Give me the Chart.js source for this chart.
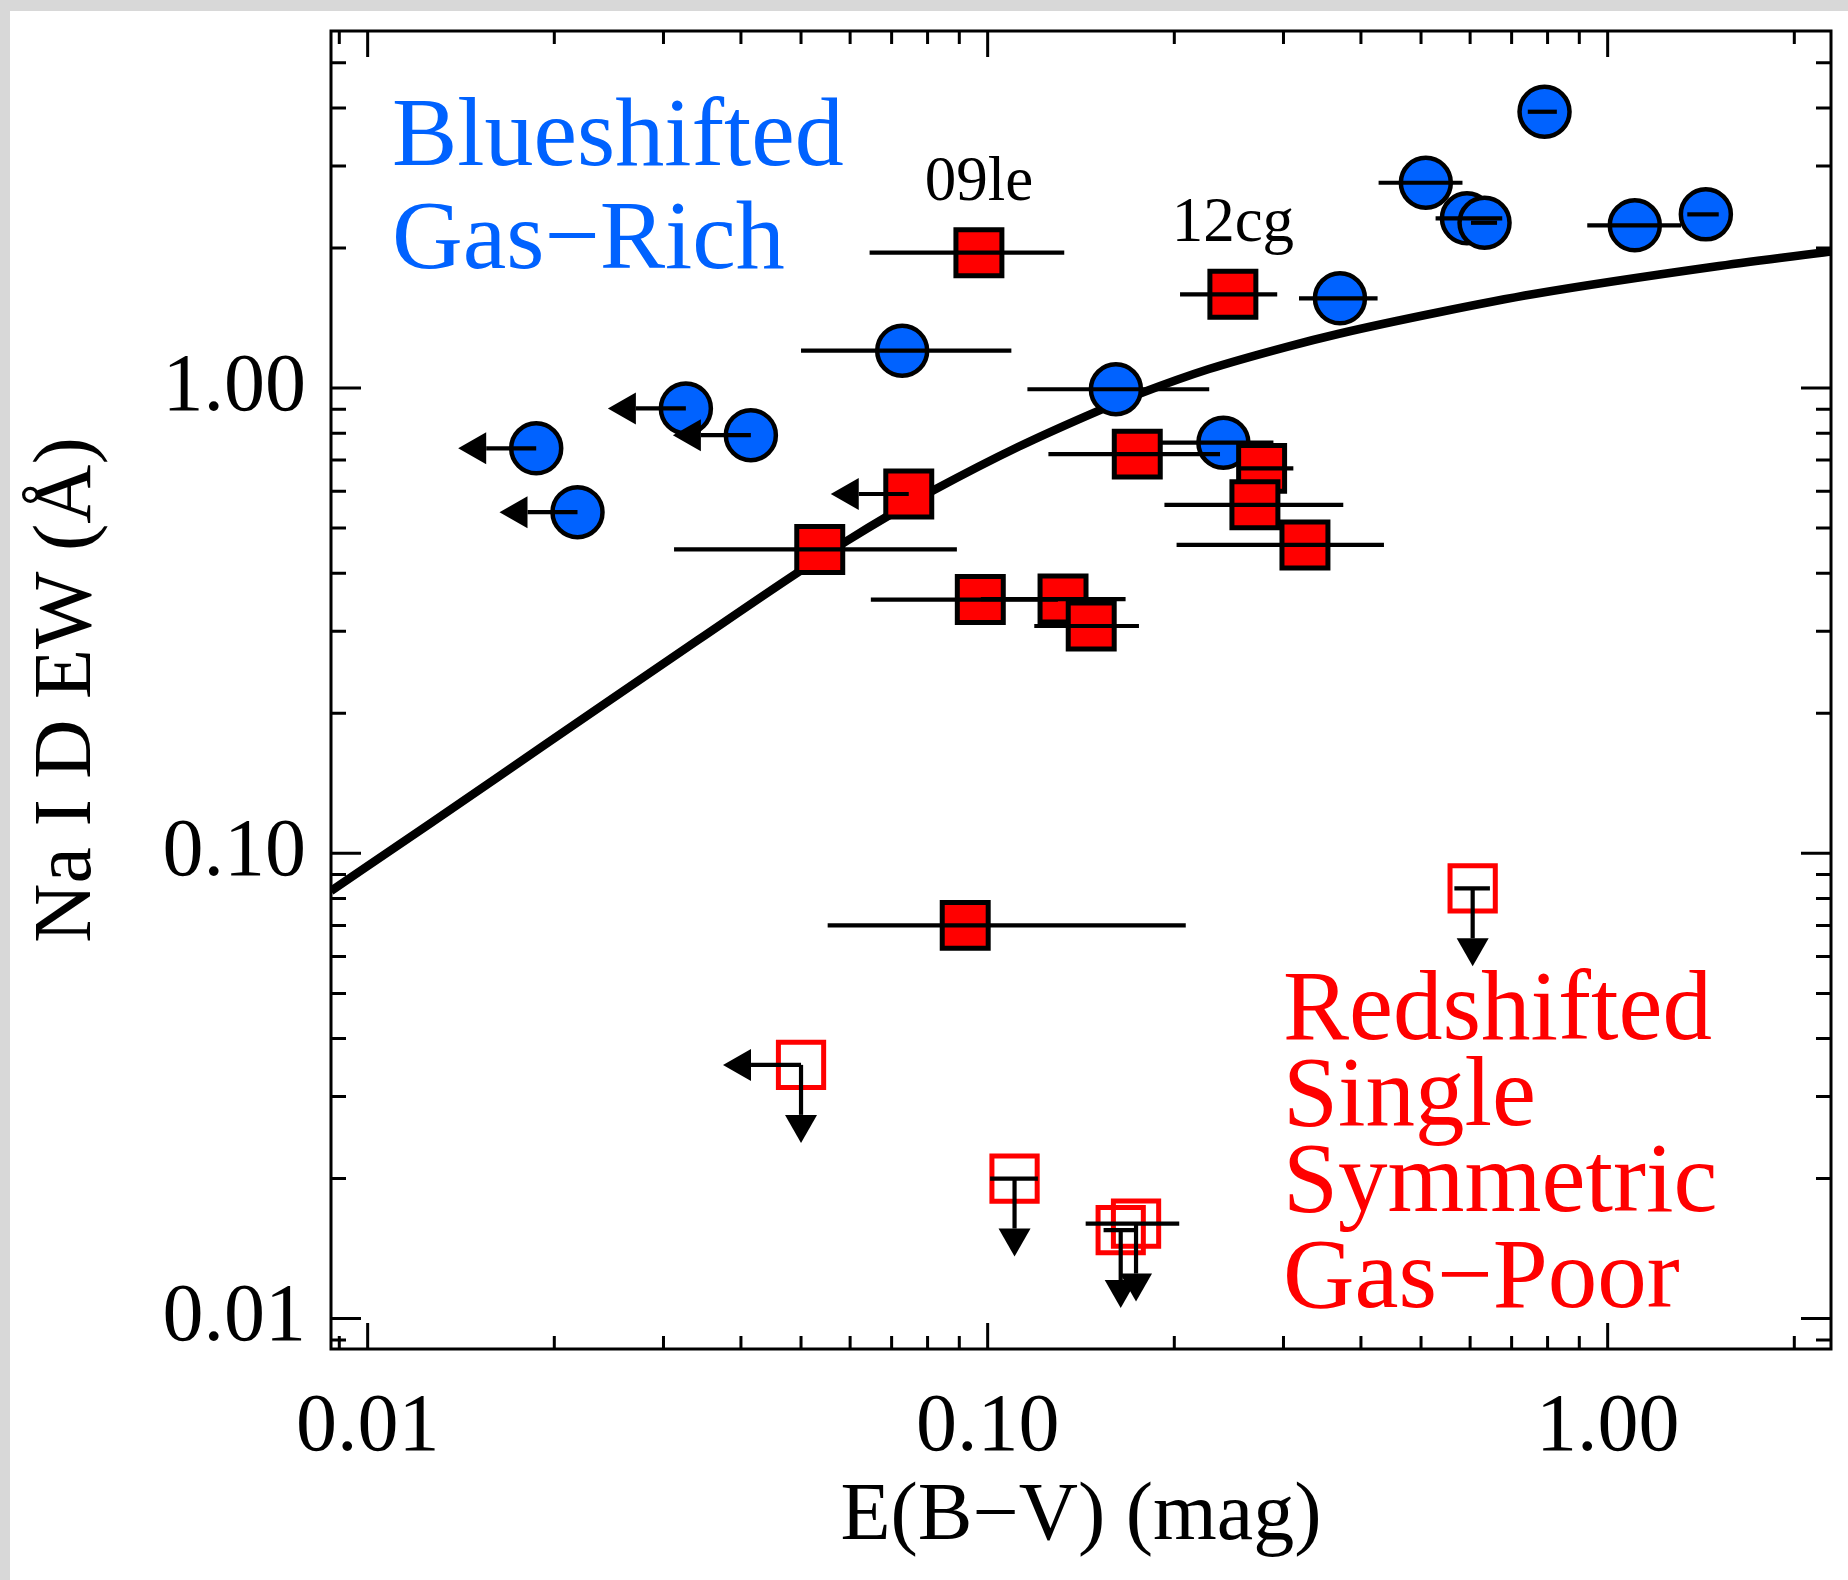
<!DOCTYPE html>
<html>
<head>
<meta charset="utf-8">
<title>Na I D EW vs E(B-V)</title>
<script src="https://cdn.jsdelivr.net/npm/chart.js@4.4.1/dist/chart.umd.min.js"></script>
<style>
  html, body { margin: 0; padding: 0; background: #fff; overflow: hidden; }
  canvas { display: block; }
</style>
</head>
<body>
<canvas id="c" width="1848" height="1580"></canvas>
<script>
// ---- axis ranges and tick labels ----
const eRange = [0.008727, 2.292];     // E(B-V) axis, mag
const ewRange = [0.008603, 5.853];    // Na I D EW axis, Angstrom
const xTickValues = [0.01, 0.1, 1];
const yTickValues = [0.01, 0.1, 1];

// ---- blueshifted, gas-rich ----
const blueE   = [0.0187, 0.0218, 0.0326, 0.0415, 0.0728, 0.161, 0.240, 0.370, 0.509, 0.593, 0.633, 0.791, 1.106, 1.440];
const blueEW  = [0.742, 0.541, 0.904, 0.792, 1.203, 0.994, 0.763, 1.559, 2.762, 2.316, 2.266, 3.925, 2.237, 2.362];
const blueELo = [null, null, null, null, 0.0500, 0.1159, 0.1909, 0.3178, 0.4271, 0.5278, 0.6019, 0.7433, 0.9270, 1.3441];
const blueEHi = [null, null, null, null, 0.1092, 0.2277, 0.2890, 0.4255, 0.5832, 0.6760, 0.6631, 0.8280, 1.3130, 1.5106];
const blueELimit = [1, 1, 1, 1, 0, 0, 0, 0, 0, 0, 0, 0, 0, 0];

// ---- redshifted / single / symmetric (detections) ----
const redE   = [0.0968, 0.2486, 0.0746, 0.0536, 0.1743, 0.2766, 0.2698, 0.3249, 0.0973, 0.1323, 0.1469, 0.0920];
const redEW  = [1.954, 1.590, 0.592, 0.450, 0.721, 0.672, 0.561, 0.460, 0.351, 0.352, 0.308, 0.0700];
const redELo = [0.0645, 0.2043, null, 0.0312, 0.1253, 0.2552, 0.1928, 0.2017, 0.0648, 0.0975, 0.1189, 0.0552];
const redEHi = [0.1329, 0.2931, null, 0.0892, 0.2370, 0.3112, 0.3746, 0.4357, 0.1298, 0.1669, 0.1754, 0.2087];
const redELimit = [0, 0, 1, 0, 0, 0, 0, 0, 0, 0, 0, 0];
const redNames  = ['09le', '12cg', '', '', '', '', '', '', '', '', '', ''];

// ---- gas-poor: EW upper limits ----
const limE   = [0.0500, 0.1105, 0.1639, 0.1735, 0.6057];
const limEW  = [0.0351, 0.0200, 0.0155, 0.0160, 0.0841];
const limELo = [null, 0.1009, 0.1538, 0.1439, 0.5659];
const limEHi = [null, 0.1205, 0.1747, 0.2037, 0.6458];
const limELimit = [1, 0, 0, 0, 0];

// ---- Na I D EW - E(B-V) relation ----
const curveE  = [0.008727, 0.01265, 0.01623, 0.02441, 0.03410, 0.04927, 0.05908, 0.06906, 0.08192, 0.1119, 0.1518, 0.1787, 0.2275, 0.3028, 0.3701, 0.5365, 0.7605, 1.512, 2.292];
const curveEW = [0.0830, 0.1162, 0.1459, 0.2120, 0.2873, 0.4004, 0.4679, 0.5308, 0.6036, 0.7469, 0.8968, 0.9804, 1.0985, 1.2248, 1.3099, 1.4568, 1.5922, 1.8289, 1.9655];

const BLUE = '#0062ff';
const RED = '#ff0000';
const FONT = '"Liberation Serif", "Times New Roman", Times, serif';

const toXY = (xs, ys) => xs.map((v, i) => ({ x: v, y: ys[i] }));

const errGroups = [
  { e: blueE, ew: blueEW, lo: blueELo, hi: blueEHi, limE: blueELimit, limEW: false },
  { e: redE,  ew: redEW,  lo: redELo,  hi: redEHi,  limE: redELimit,  limEW: false },
  { e: limE,  ew: limEW,  lo: limELo,  hi: limEHi,  limE: limELimit,  limEW: true }
];

function drawArrow(ctx, x0, y0, dx, dy) {
  const len = 78, head = 28, half = 16;
  const x1 = x0 + dx * len, y1 = y0 + dy * len;
  const bx = x1 - dx * head, by = y1 - dy * head;
  ctx.beginPath();
  ctx.moveTo(x0, y0);
  ctx.lineTo(bx, by);
  ctx.stroke();
  ctx.beginPath();
  ctx.moveTo(x1, y1);
  ctx.lineTo(bx - dy * half, by + dx * half);
  ctx.lineTo(bx + dy * half, by - dx * half);
  ctx.closePath();
  ctx.fill();
}

function minorValues(min, max) {
  const out = [];
  for (let p = -4; p <= 2; p++) {
    for (let m = 2; m <= 9; m++) {
      const v = m * Math.pow(10, p);
      if (v > min && v < max) out.push(v);
    }
  }
  return out;
}

const overlay = {
  id: 'overlay',
  beforeDraw(chart) {
    const ctx = chart.ctx;
    ctx.save();
    ctx.fillStyle = '#d8d8d8';
    ctx.fillRect(0, 0, chart.width, chart.height);
    ctx.fillStyle = '#ffffff';
    ctx.fillRect(10, 11, chart.width - 10, chart.height - 11);
    ctx.restore();
  },
  afterDatasetsDraw(chart) {
    const { ctx, chartArea: a, scales: { x, y } } = chart;

    // error bars and limit arrows
    ctx.save();
    ctx.beginPath();
    ctx.rect(a.left, a.top, a.right - a.left, a.bottom - a.top);
    ctx.clip();
    ctx.strokeStyle = '#000';
    ctx.fillStyle = '#000';
    ctx.lineWidth = 4.2;
    ctx.lineCap = 'butt';
    errGroups.forEach(g => {
      g.e.forEach((e, i) => {
        const px = x.getPixelForValue(e);
        const py = y.getPixelForValue(g.ew[i]);
        if (g.lo[i] != null) {
          ctx.beginPath();
          ctx.moveTo(x.getPixelForValue(g.lo[i]), py);
          ctx.lineTo(x.getPixelForValue(g.hi[i]), py);
          ctx.stroke();
        }
        if (g.limE[i]) drawArrow(ctx, px, py, -1, 0);
        if (g.limEW) drawArrow(ctx, px, py, 0, 1);
      });
    });
    ctx.restore();

    // object names above their points
    ctx.save();
    ctx.fillStyle = '#000';
    ctx.font = '63px ' + FONT;
    ctx.textAlign = 'center';
    ctx.textBaseline = 'alphabetic';
    redNames.forEach((n, i) => {
      if (!n) return;
      ctx.fillText(n, x.getPixelForValue(redE[i]), y.getPixelForValue(redEW[i]) - 53);
    });

    // group captions
    ctx.textAlign = 'left';
    ctx.fillStyle = BLUE;
    ctx.font = '98px ' + FONT;
    ctx.fillText('Blueshifted', a.left + 61, 165);
    ctx.fillText('Gas\u2212Rich', a.left + 61, 268);
    ctx.fillStyle = RED;
    ctx.font = '99px ' + FONT;
    ctx.fillText('Redshifted', a.left + 952, 1039);
    ctx.fillText('Single', a.left + 952, 1125);
    ctx.fillText('Symmetric', a.left + 952, 1211);
    ctx.fillText('Gas\u2212Poor', a.left + 952, 1307);
    ctx.restore();

    // frame with inward ticks on all four sides
    ctx.save();
    ctx.strokeStyle = '#000';
    ctx.lineWidth = 3;
    ctx.lineJoin = 'miter';
    ctx.strokeRect(a.left, a.top, a.right - a.left, a.bottom - a.top);
    ctx.beginPath();
    const xt = (v, len) => {
      const p = x.getPixelForValue(v);
      ctx.moveTo(p, a.bottom); ctx.lineTo(p, a.bottom - len);
      ctx.moveTo(p, a.top); ctx.lineTo(p, a.top + len);
    };
    const yt = (v, len) => {
      const p = y.getPixelForValue(v);
      ctx.moveTo(a.left, p); ctx.lineTo(a.left + len, p);
      ctx.moveTo(a.right, p); ctx.lineTo(a.right - len, p);
    };
    xTickValues.forEach(v => xt(v, 26));
    minorValues(eRange[0], eRange[1]).forEach(v => xt(v, 13));
    yTickValues.forEach(v => yt(v, 30));
    minorValues(ewRange[0], ewRange[1]).forEach(v => yt(v, 15));
    ctx.stroke();
    ctx.restore();
  }
};

const tickFont = { family: FONT, size: 82 };

new Chart(document.getElementById('c'), {
  type: 'scatter',
  data: {
    datasets: [
      {
        type: 'line',
        data: toXY(curveE, curveEW),
        borderColor: '#000',
        borderWidth: 8.5,
        pointRadius: 0,
        fill: false,
        cubicInterpolationMode: 'monotone',
        borderJoinStyle: 'round',
        order: 10
      },
      {
        data: toXY(blueE, blueEW),
        pointStyle: 'circle',
        pointRadius: 25,
        pointBorderWidth: 4.5,
        pointBackgroundColor: BLUE,
        pointBorderColor: '#000',
        order: 5
      },
      {
        data: toXY(redE, redEW),
        pointStyle: 'rect',
        pointRadius: 32.5,
        pointBorderWidth: 5,
        pointBackgroundColor: RED,
        pointBorderColor: '#000',
        order: 3
      },
      {
        data: toXY(limE, limEW),
        pointStyle: 'rect',
        pointRadius: 32,
        pointBorderWidth: 5,
        pointBackgroundColor: 'rgba(0,0,0,0)',
        pointBorderColor: RED,
        order: 2
      }
    ]
  },
  options: {
    responsive: false,
    animation: false,
    events: [],
    devicePixelRatio: 1,
    layout: { autoPadding: false, padding: { top: 31, right: 17, left: 0, bottom: 0 } },
    plugins: { legend: { display: false }, tooltip: { enabled: false } },
    scales: {
      x: {
        type: 'logarithmic',
        position: 'bottom',
        min: eRange[0],
        max: eRange[1],
        bounds: 'data',
        grid: { display: false, drawTicks: false },
        border: { display: false },
        afterBuildTicks: s => { s.ticks = xTickValues.map(v => ({ value: v })); },
        afterFit: s => { s.height = 231; s.paddingLeft = 0; s.paddingRight = 0; },
        ticks: {
          autoSkip: false, maxRotation: 0, minRotation: 0, padding: 30,
          color: '#000', font: tickFont,
          callback: v => Number(v).toFixed(2)
        },
        title: {
          display: true, text: 'E(B\u2212V) (mag)', color: '#000',
          font: tickFont, padding: { top: 0, bottom: 13 }
        }
      },
      y: {
        type: 'logarithmic',
        position: 'left',
        min: ewRange[0],
        max: ewRange[1],
        bounds: 'data',
        grid: { display: false, drawTicks: false },
        border: { display: false },
        afterBuildTicks: s => { s.ticks = yTickValues.map(v => ({ value: v })); },
        afterFit: s => { s.width = 331; s.paddingTop = 0; s.paddingBottom = 0; },
        ticks: {
          autoSkip: false, padding: 25,
          color: '#000', font: tickFont,
          callback: v => Number(v).toFixed(2)
        },
        title: {
          display: true, text: 'Na I D EW (\u00c5)', color: '#000',
          font: tickFont, padding: { top: 19, bottom: 0 }
        }
      }
    }
  },
  plugins: [overlay]
});
</script>
</body>
</html>
